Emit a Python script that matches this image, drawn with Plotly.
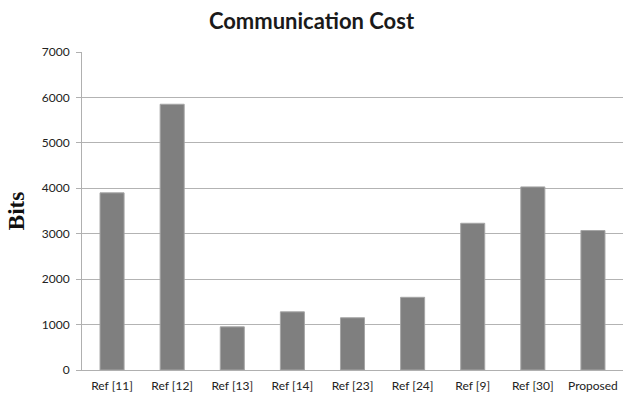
import plotly.graph_objects as go

categories = ["Ref [11]", "Ref [12]", "Ref [13]", "Ref [14]", "Ref [23]", "Ref [24]", "Ref [9]", "Ref [30]", "Proposed"]
bits = [3900, 5850, 950, 1280, 1150, 1600, 3230, 4030, 3070]
y_ticks = [0, 1000, 2000, 3000, 4000, 5000, 6000, 7000]

fig = go.Figure(go.Bar(
    x=categories, y=bits,
    marker=dict(color="#7f7f7f", line=dict(color="#a6a6a6", width=1)),
))
fig.update_layout(
    width=623, height=401,
    margin=dict(l=82, r=0, t=52, b=31),
    paper_bgcolor="white", plot_bgcolor="white",
    bargap=0.6,
    showlegend=False,
    title=dict(text="<b>Communication Cost</b>", x=0.5, xanchor="center", y=0.947, yanchor="middle",
               font=dict(family="Lato", size=22, color="#1a1a1a")),
    font=dict(family="Lato", size=12, color="#222222"),
)
fig.update_xaxes(showline=True, linecolor="#b0b0b0", linewidth=1, ticks="", tickfont=dict(size=12),
                 ticklabelstandoff=5)
fig.update_yaxes(range=[0, 7000], tickvals=y_ticks, showgrid=True, gridcolor="#b3b3b3", gridwidth=1,
                 showline=True, linecolor="#b0b0b0", linewidth=1, ticks="outside", ticklen=5,
                 tickcolor="#b0b0b0", zeroline=False, tickfont=dict(size=12),
                 ticklabelstandoff=4,
                 title=dict(text="<b>Bits</b>", font=dict(family="Liberation Serif", size=23, color="#111111"),
                            standoff=10))
fig.write_html("out.html")
